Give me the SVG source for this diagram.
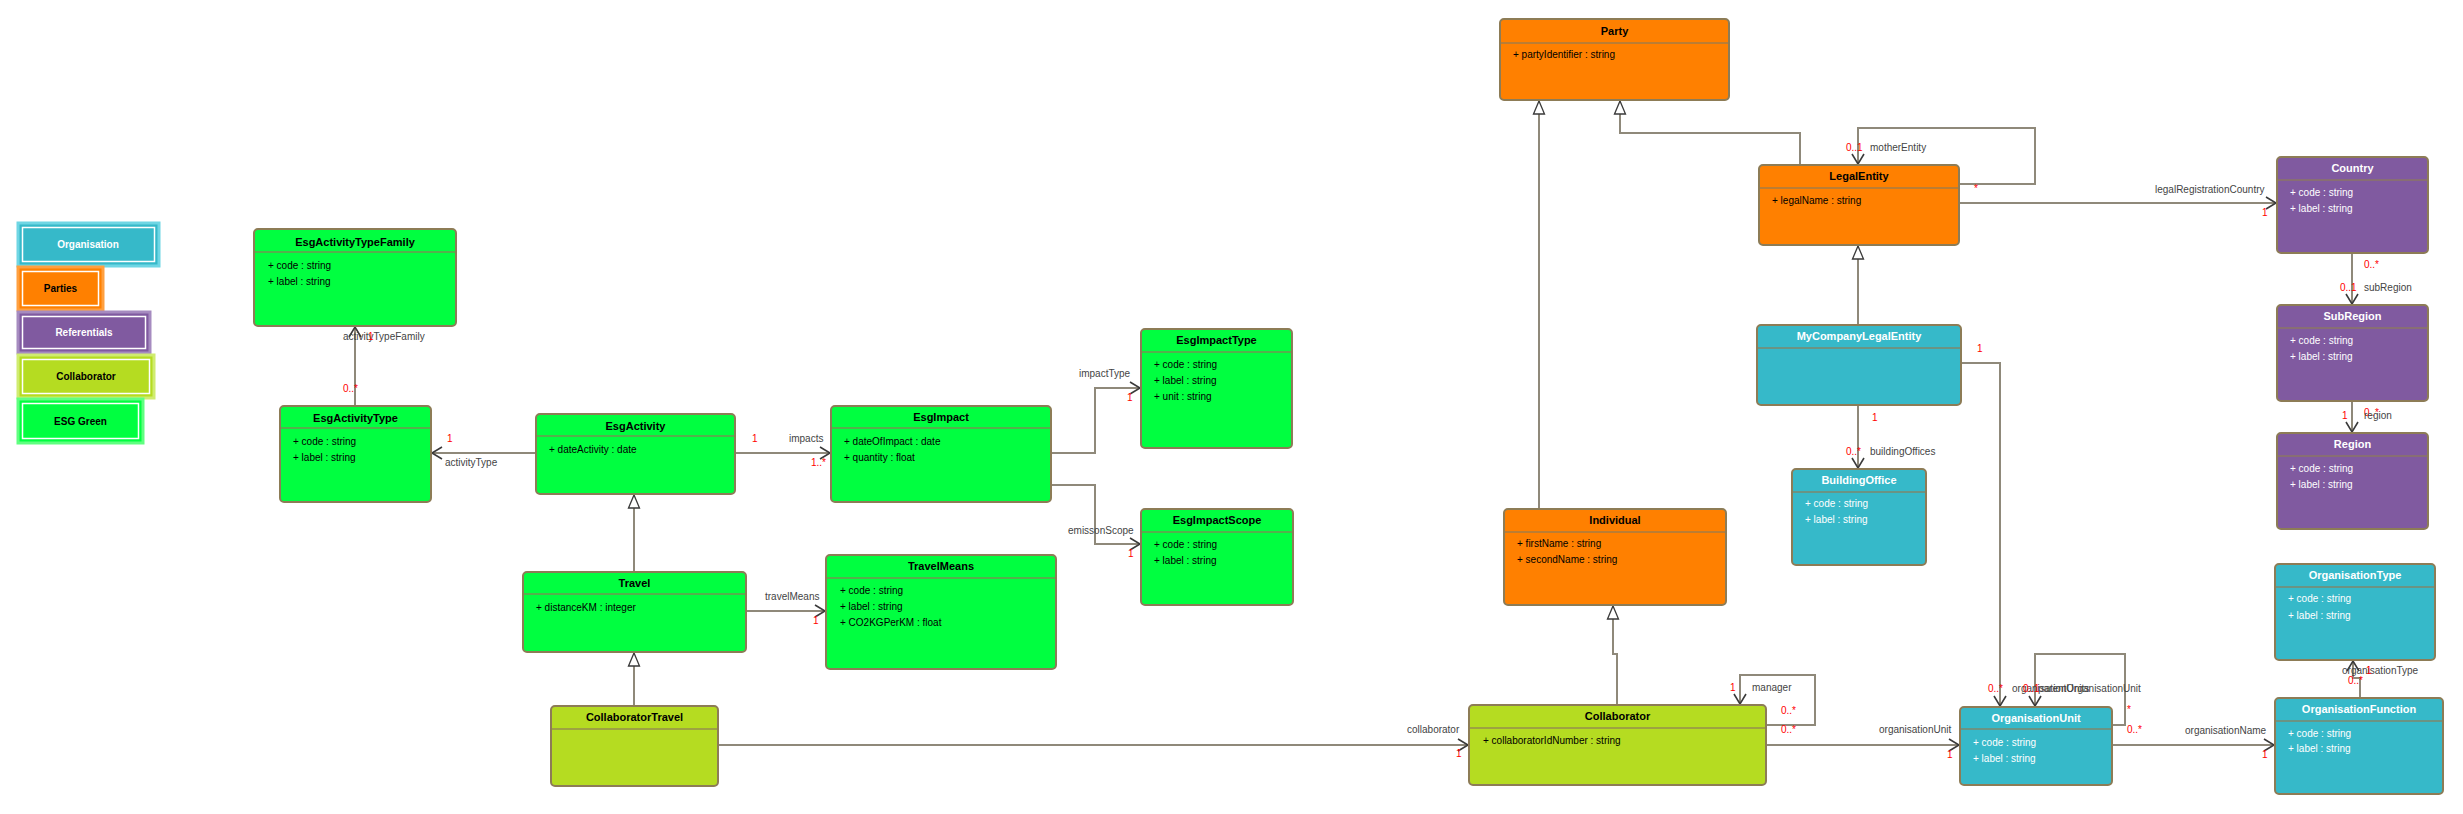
<svg xmlns="http://www.w3.org/2000/svg" width="2463" height="814" viewBox="0 0 2463 814">
<style>
.box{stroke:#8D7C56;stroke-width:2}
.sep{stroke:#8D7C56;stroke-opacity:.6;stroke-width:2}
.g{fill:#00FF40}.o{fill:#FF8000}.t{fill:#36B9C9}.p{fill:#805AA0}.l{fill:#B5DC21}
.title{font-family:"Liberation Sans",Arial,sans-serif;font-size:11px;font-weight:bold;text-anchor:middle;fill:#000}
.attr{font-family:"Liberation Sans",Arial,sans-serif;font-size:10px;fill:#000}
.w{fill:#fff}
.lbl{font-family:"Liberation Sans",Arial,sans-serif;font-size:10px;fill:#444}
.m{font-family:"Liberation Sans",Arial,sans-serif;font-size:10px;fill:#f00}
.conn path{fill:none;stroke:#8F897A;stroke-width:2}
.asc{marker-end:url(#arr)}
.gen{marker-end:url(#tri)}
.leg{font-family:"Liberation Sans",Arial,sans-serif;font-size:10px;font-weight:bold;text-anchor:middle}
</style>
<defs>
<marker id="arr" markerUnits="userSpaceOnUse" markerWidth="14" markerHeight="14" refX="11" refY="7" orient="auto">
<path d="M1,1 L11,7 L1,13" fill="none" stroke="#3a3a3a" stroke-width="1.6"/>
</marker>
<marker id="tri" markerUnits="userSpaceOnUse" markerWidth="16" markerHeight="14" refX="14" refY="7" orient="auto">
<path d="M1,1.5 L14,7 L1,12.5 Z" fill="#fff" stroke="#3a3a3a" stroke-width="1.3"/>
</marker>
</defs>
<rect width="2463" height="814" fill="#fff"/>

<g id="legend">
<g id="legend-organisation"><rect x="18" y="223" width="141" height="43" class="t" stroke="#6FD6E4" stroke-width="3"/><rect x="22.5" y="227.5" width="132" height="34" fill="none" stroke="#fff" stroke-width="1.5"/><text x="88" y="248" class="leg" fill="#fff">Organisation</text></g>
<g id="legend-parties"><rect x="18" y="267" width="85" height="43" class="o" stroke="#FFA040" stroke-width="3"/><rect x="22.5" y="271.5" width="76" height="34" fill="none" stroke="#fff" stroke-width="1.5"/><text x="60.5" y="292" class="leg" fill="#000">Parties</text></g>
<g id="legend-referentials"><rect x="18" y="312" width="132" height="41" class="p" stroke="#A68BC0" stroke-width="3"/><rect x="22.5" y="316.5" width="123" height="32" fill="none" stroke="#fff" stroke-width="1.5"/><text x="84" y="336" class="leg" fill="#fff">Referentials</text></g>
<g id="legend-collaborator"><rect x="18" y="355" width="136" height="43" class="l" stroke="#D0EC70" stroke-width="3"/><rect x="22.5" y="359.5" width="127" height="34" fill="none" stroke="#fff" stroke-width="1.5"/><text x="86" y="380" class="leg" fill="#000">Collaborator</text></g>
<g id="legend-esg"><rect x="18" y="399" width="125" height="44" class="g" stroke="#60FF80" stroke-width="3"/><rect x="22.5" y="403.5" width="116" height="35" fill="none" stroke="#fff" stroke-width="1.5"/><text x="80.5" y="425" class="leg" fill="#000">ESG Green</text></g>
</g>

<g id="connectors" class="conn">
<path class="asc" d="M355,406 L355,327"/>
<path class="asc" d="M536,453 L432,453"/>
<path class="asc" d="M735,453 L830,453"/>
<path class="asc" d="M1051,453 L1095,453 L1095,388 L1140,388"/>
<path class="asc" d="M1051,485 L1095,485 L1095,544 L1140,544"/>
<path class="gen" d="M634,572 L634,495"/>
<path class="asc" d="M746,611 L825,611"/>
<path class="gen" d="M634,706 L634,653"/>
<path class="asc" d="M718,745 L1468,745"/>
<path class="gen" d="M1539,509 L1539,101"/>
<path class="gen" d="M1800,165 L1800,133 L1620,133 L1620,101"/>
<path class="asc" d="M1959,184 L2035,184 L2035,128 L1858,128 L1858,164"/>
<path class="asc" d="M1959,203 L2276,203"/>
<path class="gen" d="M1858,325 L1858,246"/>
<path class="asc" d="M1858,405 L1858,468"/>
<path class="asc" d="M1961,363 L2000,363 L2000,706"/>
<path class="asc" d="M2352,253 L2352,304"/>
<path class="asc" d="M2352,401 L2352,432"/>
<path class="gen" d="M1617,705 L1617,654 L1613,654 L1613,606"/>
<path class="asc" d="M1766,725 L1815,725 L1815,675 L1740,675 L1740,704"/>
<path class="asc" d="M1766,745 L1959,745"/>
<path class="asc" d="M2112,725 L2125,725 L2125,654 L2035,654 L2035,706"/>
<path class="asc" d="M2112,745 L2274,745"/>
<path class="asc" d="M2360,698 L2360,678 L2353,678 L2353,661"/>
</g>

<g id="connector-labels">
<text x="343" y="340" class="lbl">activityTypeFamily</text><text x="368" y="340" class="m">1</text><text x="343" y="392" class="m">0..*</text>
<text x="447" y="442" class="m">1</text><text x="445" y="466" class="lbl">activityType</text>
<text x="752" y="442" class="m">1</text><text x="789" y="442" class="lbl">impacts</text><text x="811" y="466" class="m">1..*</text>
<text x="1079" y="377" class="lbl">impactType</text><text x="1127" y="401" class="m">1</text>
<text x="1068" y="534" class="lbl">emissonScope</text><text x="1128" y="557" class="m">1</text>
<text x="765" y="600" class="lbl">travelMeans</text><text x="813" y="624" class="m">1</text>
<text x="1407" y="733" class="lbl">collaborator</text><text x="1456" y="757" class="m">1</text>
<text x="1846" y="151" class="m">0..1</text><text x="1870" y="151" class="lbl">motherEntity</text><text x="1974" y="192" class="m">*</text>
<text x="2155" y="193" class="lbl">legalRegistrationCountry</text><text x="2262" y="216" class="m">1</text>
<text x="1977" y="352" class="m">1</text>
<text x="1872" y="421" class="m">1</text><text x="1846" y="455" class="m">0..*</text><text x="1870" y="455" class="lbl">buildingOffices</text>
<text x="2364" y="268" class="m">0..*</text><text x="2340" y="291" class="m">0..1</text><text x="2364" y="291" class="lbl">subRegion</text>
<text x="2342" y="419" class="m">1</text><text x="2364" y="416" class="m">0..*</text><text x="2364" y="419" class="lbl">region</text>
<text x="1730" y="691" class="m">1</text><text x="1752" y="691" class="lbl">manager</text><text x="1781" y="714" class="m">0..*</text><text x="1781" y="733" class="m">0..*</text>
<text x="1879" y="733" class="lbl">organisationUnit</text><text x="1947" y="758" class="m">1</text>
<text x="1988" y="692" class="m">0..*</text>
<text x="2012" y="692" class="lbl">organisationUnits</text><text x="2023" y="692" class="m">0..1</text><text x="2038" y="692" class="lbl">parentOrganisationUnit</text>
<text x="2127" y="713" class="m">*</text><text x="2127" y="733" class="m">0..*</text>
<text x="2185" y="734" class="lbl">organisationName</text><text x="2262" y="758" class="m">1</text>
<text x="2342" y="674" class="lbl">organisationType</text><text x="2366" y="674" class="m">1</text><text x="2348" y="684" class="m">0..*</text>
</g>

<g id="EsgActivityTypeFamily"><rect x="254" y="229" width="202" height="97" rx="4" class="box g"/><line x1="255" y1="252" x2="455" y2="252" class="sep"/><text x="355" y="246" class="title">EsgActivityTypeFamily</text><text x="268" y="268.5" class="attr">+ code : string</text><text x="268" y="284.5" class="attr">+ label : string</text></g>
<g id="EsgActivityType"><rect x="280" y="406" width="151" height="96" rx="4" class="box g"/><line x1="281" y1="428" x2="430" y2="428" class="sep"/><text x="355.5" y="422" class="title">EsgActivityType</text><text x="293" y="444.5" class="attr">+ code : string</text><text x="293" y="460.5" class="attr">+ label : string</text></g>
<g id="EsgActivity"><rect x="536" y="414" width="199" height="80" rx="4" class="box g"/><line x1="537" y1="436" x2="734" y2="436" class="sep"/><text x="635.5" y="430" class="title">EsgActivity</text><text x="549" y="452.5" class="attr">+ dateActivity : date</text></g>
<g id="EsgImpact"><rect x="831" y="406" width="220" height="96" rx="4" class="box g"/><line x1="832" y1="428" x2="1050" y2="428" class="sep"/><text x="941" y="421" class="title">EsgImpact</text><text x="844" y="444.5" class="attr">+ dateOfImpact : date</text><text x="844" y="460.5" class="attr">+ quantity : float</text></g>
<g id="EsgImpactType"><rect x="1141" y="329" width="151" height="119" rx="4" class="box g"/><line x1="1142" y1="352" x2="1291" y2="352" class="sep"/><text x="1216.5" y="344" class="title">EsgImpactType</text><text x="1154" y="367.5" class="attr">+ code : string</text><text x="1154" y="383.5" class="attr">+ label : string</text><text x="1154" y="399.5" class="attr">+ unit : string</text></g>
<g id="EsgImpactScope"><rect x="1141" y="509" width="152" height="96" rx="4" class="box g"/><line x1="1142" y1="532" x2="1292" y2="532" class="sep"/><text x="1217" y="524" class="title">EsgImpactScope</text><text x="1154" y="547.5" class="attr">+ code : string</text><text x="1154" y="563.5" class="attr">+ label : string</text></g>
<g id="Travel"><rect x="523" y="572" width="223" height="80" rx="4" class="box g"/><line x1="524" y1="594" x2="745" y2="594" class="sep"/><text x="634.5" y="587" class="title">Travel</text><text x="536" y="610.5" class="attr">+ distanceKM : integer</text></g>
<g id="TravelMeans"><rect x="826" y="555" width="230" height="114" rx="4" class="box g"/><line x1="827" y1="578" x2="1055" y2="578" class="sep"/><text x="941" y="570" class="title">TravelMeans</text><text x="840" y="593.5" class="attr">+ code : string</text><text x="840" y="609.5" class="attr">+ label : string</text><text x="840" y="625.5" class="attr">+ CO2KGPerKM : float</text></g>
<g id="CollaboratorTravel"><rect x="551" y="706" width="167" height="80" rx="4" class="box l"/><line x1="552" y1="729" x2="717" y2="729" class="sep"/><text x="634.5" y="721" class="title">CollaboratorTravel</text></g>
<g id="Party"><rect x="1500" y="19" width="229" height="81" rx="4" class="box o"/><line x1="1501" y1="43" x2="1728" y2="43" class="sep"/><text x="1614.5" y="35" class="title">Party</text><text x="1513" y="57.5" class="attr">+ partyIdentifier : string</text></g>
<g id="LegalEntity"><rect x="1759" y="165" width="200" height="80" rx="4" class="box o"/><line x1="1760" y1="188" x2="1958" y2="188" class="sep"/><text x="1859" y="180" class="title">LegalEntity</text><text x="1772" y="203.5" class="attr">+ legalName : string</text></g>
<g id="MyCompanyLegalEntity"><rect x="1757" y="325" width="204" height="80" rx="4" class="box t"/><line x1="1758" y1="348" x2="1960" y2="348" class="sep"/><text x="1859" y="340" class="title w">MyCompanyLegalEntity</text></g>
<g id="BuildingOffice"><rect x="1792" y="469" width="134" height="96" rx="4" class="box t"/><line x1="1793" y1="492" x2="1925" y2="492" class="sep"/><text x="1859" y="484" class="title w">BuildingOffice</text><text x="1805" y="506.5" class="attr w">+ code : string</text><text x="1805" y="522.5" class="attr w">+ label : string</text></g>
<g id="Country"><rect x="2277" y="157" width="151" height="96" rx="4" class="box p"/><line x1="2278" y1="180" x2="2427" y2="180" class="sep"/><text x="2352.5" y="172" class="title w">Country</text><text x="2290" y="195.5" class="attr w">+ code : string</text><text x="2290" y="211.5" class="attr w">+ label : string</text></g>
<g id="SubRegion"><rect x="2277" y="305" width="151" height="96" rx="4" class="box p"/><line x1="2278" y1="328" x2="2427" y2="328" class="sep"/><text x="2352.5" y="320" class="title w">SubRegion</text><text x="2290" y="343.5" class="attr w">+ code : string</text><text x="2290" y="359.5" class="attr w">+ label : string</text></g>
<g id="Region"><rect x="2277" y="433" width="151" height="96" rx="4" class="box p"/><line x1="2278" y1="456" x2="2427" y2="456" class="sep"/><text x="2352.5" y="448" class="title w">Region</text><text x="2290" y="471.5" class="attr w">+ code : string</text><text x="2290" y="487.5" class="attr w">+ label : string</text></g>
<g id="Individual"><rect x="1504" y="509" width="222" height="96" rx="4" class="box o"/><line x1="1505" y1="532" x2="1725" y2="532" class="sep"/><text x="1615" y="524" class="title">Individual</text><text x="1517" y="546.5" class="attr">+ firstName : string</text><text x="1517" y="562.5" class="attr">+ secondName : string</text></g>
<g id="Collaborator"><rect x="1469" y="705" width="297" height="80" rx="4" class="box l"/><line x1="1470" y1="728" x2="1765" y2="728" class="sep"/><text x="1617.5" y="720" class="title">Collaborator</text><text x="1483" y="743.5" class="attr">+ collaboratorIdNumber : string</text></g>
<g id="OrganisationUnit"><rect x="1960" y="707" width="152" height="78" rx="4" class="box t"/><line x1="1961" y1="729" x2="2111" y2="729" class="sep"/><text x="2036" y="722" class="title w">OrganisationUnit</text><text x="1973" y="745.5" class="attr w">+ code : string</text><text x="1973" y="761.5" class="attr w">+ label : string</text></g>
<g id="OrganisationType"><rect x="2275" y="564" width="160" height="96" rx="4" class="box t"/><line x1="2276" y1="587" x2="2434" y2="587" class="sep"/><text x="2355" y="579" class="title w">OrganisationType</text><text x="2288" y="601.5" class="attr w">+ code : string</text><text x="2288" y="618.5" class="attr w">+ label : string</text></g>
<g id="OrganisationFunction"><rect x="2275" y="698" width="168" height="96" rx="4" class="box t"/><line x1="2276" y1="721" x2="2442" y2="721" class="sep"/><text x="2359" y="713" class="title w">OrganisationFunction</text><text x="2288" y="736.5" class="attr w">+ code : string</text><text x="2288" y="751.5" class="attr w">+ label : string</text></g>
</svg>
